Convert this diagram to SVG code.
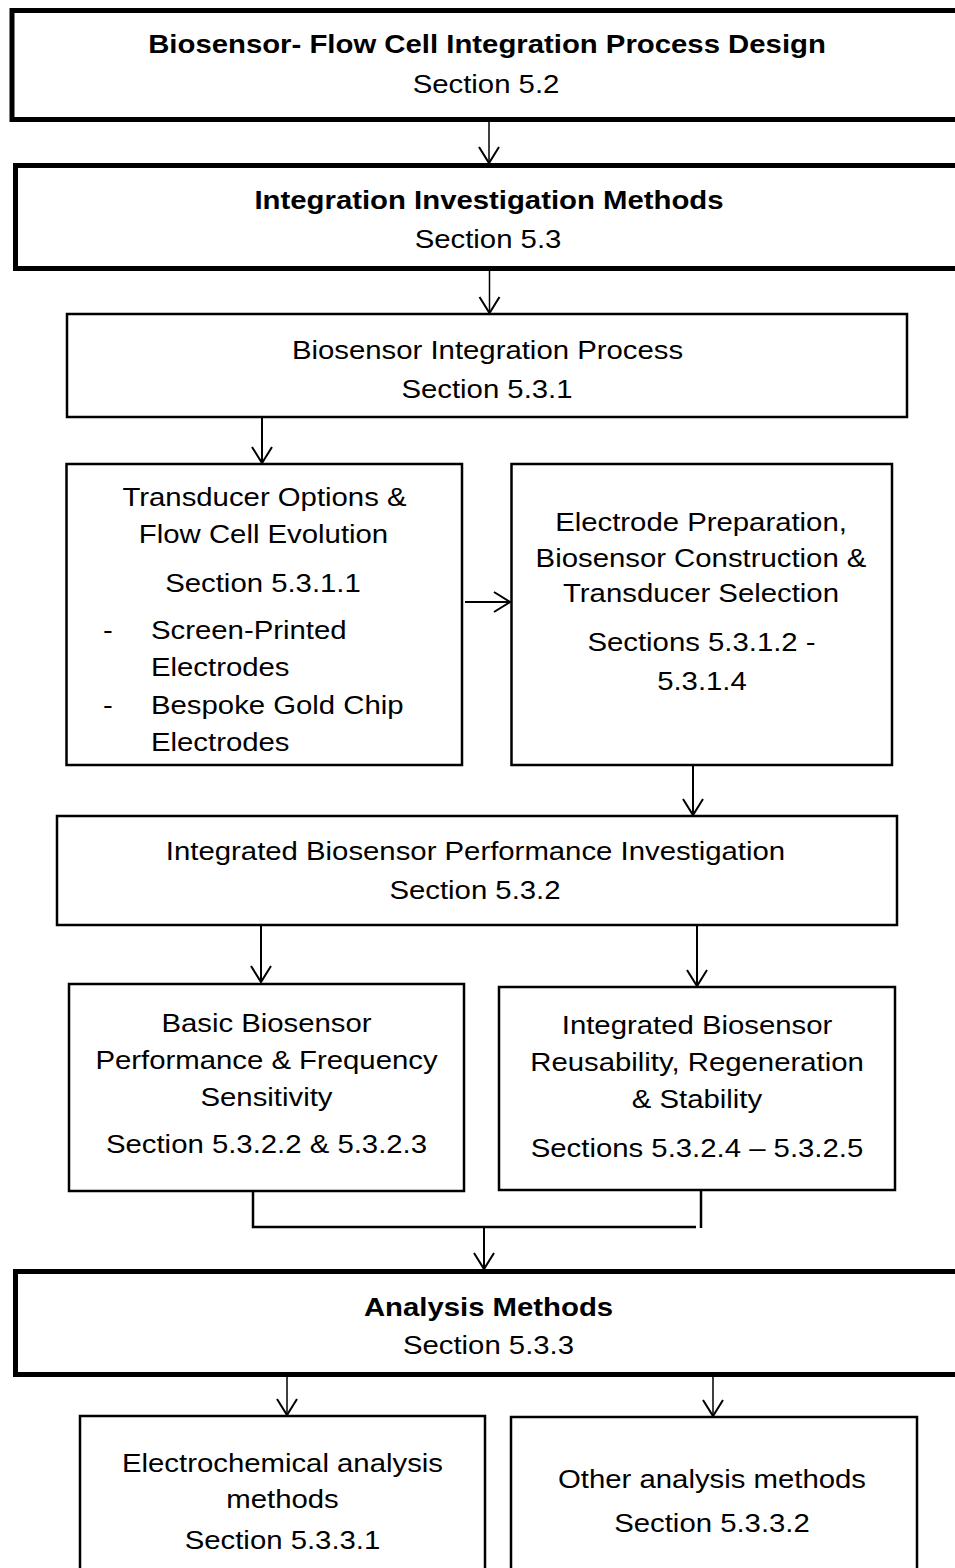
<svg xmlns="http://www.w3.org/2000/svg" width="955" height="1568" viewBox="0 0 955 1568">
  <style>
    .box { fill: #fff; stroke: #000; stroke-width: 2.5; }
    .heavy { fill: #fff; stroke: #000; stroke-width: 5; }
    .t { font-family: "Liberation Sans", Arial, sans-serif; font-size: 26.67px; fill: #000; text-anchor: middle; }
    .b { font-weight: bold; }
    .l { text-anchor: start; }
    .con { fill: none; stroke: #000; stroke-width: 2; }
    .thin { stroke-width: 1.5; }
    .bracket { fill: none; stroke: #000; stroke-width: 2.5; }
  </style>
  <defs>
    <marker id="arrow" markerUnits="userSpaceOnUse" viewBox="-20 -12 24 24" refX="0" refY="0" markerWidth="24" markerHeight="24" orient="auto">
      <path d="M-16,-10 L0,0 L-16,10" fill="none" stroke="#000" stroke-width="2"/>
    </marker>
  </defs>

  <!-- connectors -->
  <g id="connectors">
    <path class="con thin" d="M489,122 V163" marker-end="url(#arrow)"/>
    <path class="con thin" d="M489.5,271 V313" marker-end="url(#arrow)"/>
    <path class="con" d="M262,418 V463" marker-end="url(#arrow)"/>
    <path class="con" d="M465,602 H510" marker-end="url(#arrow)"/>
    <path class="con" d="M693,766 V815" marker-end="url(#arrow)"/>
    <path class="con" d="M261,925 V982" marker-end="url(#arrow)"/>
    <path class="con" d="M697,925 V986" marker-end="url(#arrow)"/>
    <path class="bracket" d="M253,1191 V1227 H696"/>
    <path class="bracket" d="M701,1189 V1228"/>
    <path class="con" d="M484,1228 V1269" marker-end="url(#arrow)"/>
    <path class="con thin" d="M287,1377 V1415" marker-end="url(#arrow)"/>
    <path class="con thin" d="M713,1377 V1416" marker-end="url(#arrow)"/>
  </g>

  <!-- process design -->
  <g id="process-design">
    <rect class="heavy" x="12" y="10.5" width="960" height="109"/>
    <text class="t b" transform="translate(487,53) scale(1.1 1)">Biosensor- Flow Cell Integration Process Design</text>
    <text class="t" transform="translate(486,93) scale(1.1 1)">Section 5.2</text>
  </g>

  <!-- investigation methods -->
  <g id="investigation-methods">
    <rect class="heavy" x="15.5" y="165.5" width="960" height="103"/>
    <text class="t b" transform="translate(489,209) scale(1.1 1)">Integration Investigation Methods</text>
    <text class="t" transform="translate(488,248) scale(1.1 1)">Section 5.3</text>
  </g>

  <!-- integration process -->
  <g id="integration-process">
    <rect class="box" x="67" y="314" width="840" height="103"/>
    <text class="t" transform="translate(487.5,359) scale(1.1 1)">Biosensor Integration Process</text>
    <text class="t" transform="translate(487,398) scale(1.1 1)">Section 5.3.1</text>
  </g>

  <!-- transducer options -->
  <g id="transducer-options">
    <rect class="box" x="66.5" y="464" width="395.5" height="301"/>
    <text class="t" transform="translate(264.5,506) scale(1.1 1)">Transducer Options &amp;</text>
    <text class="t" transform="translate(263.5,543) scale(1.1 1)">Flow Cell Evolution</text>
    <text class="t" transform="translate(263,592) scale(1.1 1)">Section 5.3.1.1</text>
    <text class="t l" transform="translate(103,639) scale(1.1 1)">-</text>
    <text class="t l" transform="translate(151,639) scale(1.1 1)">Screen-Printed</text>
    <text class="t l" transform="translate(151,676) scale(1.1 1)">Electrodes</text>
    <text class="t l" transform="translate(103,714) scale(1.1 1)">-</text>
    <text class="t l" transform="translate(151,714) scale(1.1 1)">Bespoke Gold Chip</text>
    <text class="t l" transform="translate(151,751) scale(1.1 1)">Electrodes</text>
  </g>

  <!-- electrode preparation -->
  <g id="electrode-preparation">
    <rect class="box" x="511.5" y="464" width="380.5" height="301"/>
    <text class="t" transform="translate(701,531) scale(1.1 1)">Electrode Preparation,</text>
    <text class="t" transform="translate(701,567) scale(1.1 1)">Biosensor Construction &amp;</text>
    <text class="t" transform="translate(701,602) scale(1.1 1)">Transducer Selection</text>
    <text class="t" transform="translate(701.5,651) scale(1.1 1)">Sections 5.3.1.2 -</text>
    <text class="t" transform="translate(702,690) scale(1.1 1)">5.3.1.4</text>
  </g>

  <!-- performance investigation -->
  <g id="performance-investigation">
    <rect class="box" x="57" y="816" width="840" height="109"/>
    <text class="t" transform="translate(475.5,860) scale(1.1 1)">Integrated Biosensor Performance Investigation</text>
    <text class="t" transform="translate(475,899) scale(1.1 1)">Section 5.3.2</text>
  </g>

  <!-- basic performance -->
  <g id="basic-performance">
    <rect class="box" x="69" y="984" width="395" height="207"/>
    <text class="t" transform="translate(266.5,1032) scale(1.1 1)">Basic Biosensor</text>
    <text class="t" transform="translate(266.5,1069) scale(1.1 1)">Performance &amp; Frequency</text>
    <text class="t" transform="translate(266.5,1106) scale(1.1 1)">Sensitivity</text>
    <text class="t" transform="translate(266.5,1153) scale(1.1 1)">Section 5.3.2.2 &amp; 5.3.2.3</text>
  </g>

  <!-- reusability -->
  <g id="reusability">
    <rect class="box" x="499" y="987" width="396" height="203"/>
    <text class="t" transform="translate(697,1034) scale(1.1 1)">Integrated Biosensor</text>
    <text class="t" transform="translate(697,1071) scale(1.1 1)">Reusability, Regeneration</text>
    <text class="t" transform="translate(697,1108) scale(1.1 1)">&amp; Stability</text>
    <text class="t" transform="translate(697,1157) scale(1.1 1)">Sections 5.3.2.4 – 5.3.2.5</text>
  </g>

  <!-- analysis methods -->
  <g id="analysis-methods">
    <rect class="heavy" x="15.5" y="1271.5" width="960" height="103"/>
    <text class="t b" transform="translate(488.5,1316) scale(1.1 1)">Analysis Methods</text>
    <text class="t" transform="translate(488.5,1354) scale(1.1 1)">Section 5.3.3</text>
  </g>

  <!-- electrochemical analysis -->
  <g id="electrochemical-analysis">
    <rect class="box" x="80" y="1416" width="405" height="200"/>
    <text class="t" transform="translate(282.5,1472) scale(1.1 1)">Electrochemical analysis</text>
    <text class="t" transform="translate(282.5,1508) scale(1.1 1)">methods</text>
    <text class="t" transform="translate(282.5,1549) scale(1.1 1)">Section 5.3.3.1</text>
  </g>

  <!-- other analysis -->
  <g id="other-analysis">
    <rect class="box" x="511" y="1417" width="406" height="200"/>
    <text class="t" transform="translate(712,1488) scale(1.1 1)">Other analysis methods</text>
    <text class="t" transform="translate(712,1532) scale(1.1 1)">Section 5.3.3.2</text>
  </g>
</svg>
